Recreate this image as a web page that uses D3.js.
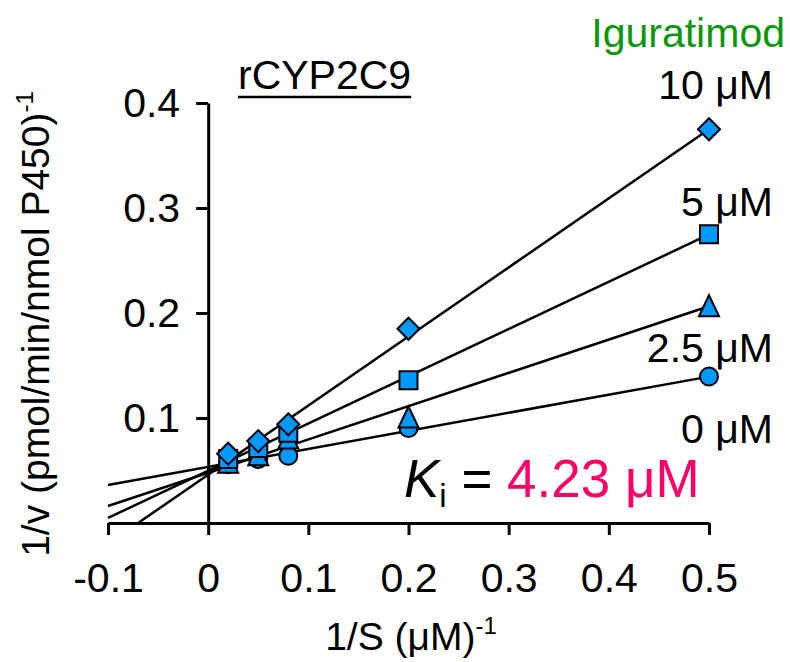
<!DOCTYPE html>
<html>
<head>
<meta charset="utf-8">
<script src="https://cdn.jsdelivr.net/npm/d3@7"></script>
<style>
  body { margin: 0; background: #fff; }
  text { font-family: "Liberation Sans", Arial, sans-serif; }
</style>
</head>
<body>
<div id="chart"></div>
<script>
// substrate reciprocal (1/S) and measured 1/v for each inhibitor level
const invS = [0.02, 0.05, 0.08, 0.2, 0.5]
const concLabels = ['0 μM', '2.5 μM', '5 μM', '10 μM']
const shapes = ['circle', 'triangle', 'square', 'diamond']
const v0 = [0.056, 0.061, 0.064, 0.0905, 0.1395]
const v25 = [0.057, 0.064, 0.080, 0.100, 0.206]
const v5 = [0.061, 0.0715, 0.086, 0.136, 0.275]
const v10 = [0.066, 0.078, 0.094, 0.185, 0.375]
// fitted lines
const fitSlope = [0.172, 0.317, 0.450, 0.658]
const fitIntercept = [0.0534, 0.0479, 0.0498, 0.046]
const xTicks = [-0.1, 0, 0.1, 0.2, 0.3, 0.4, 0.5]
const yTicks = [0.1, 0.2, 0.3, 0.4]

const series = [v0, v25, v5, v10]
const W = 790, H = 662

let svg = d3.select('#chart').append('svg')
  .attr('width', W)
  .attr('height', H)

let x = d3.scaleLinear().domain([-0.1, 0.5]).range([108, 709])
let y = d3.scaleLinear().domain([0, 0.4]).range([523, 103])

const fmt = d => (d === 0 ? '0' : String(d))

// axes
let gx = svg.append('g')
  .attr('transform', 'translate(0,' + y(0) + ')')
  .call(d3.axisBottom(x).tickValues(xTicks).tickFormat(fmt).tickSize(12).tickSizeOuter(0).tickPadding(28))
let gy = svg.append('g')
  .attr('transform', 'translate(' + x(0) + ',0)')
  .call(d3.axisLeft(y).tickValues(yTicks).tickFormat(fmt).tickSize(12).tickSizeOuter(0).tickPadding(16))

svg.selectAll('.domain, .tick line')
  .attr('stroke', '#000')
  .attr('stroke-width', 3)
svg.selectAll('.tick text')
  .attr('font-size', 41)
  .attr('fill', '#000')
  .attr('font-family', '"Liberation Sans", Arial, sans-serif')

// fitted lines, clipped at y = 0
fitSlope.forEach(function(m, i) {
  let b = fitIntercept[i]
  let x0 = Math.max(-0.1, -b / m)
  svg.append('line')
    .attr('x1', x(x0)).attr('y1', y(m * x0 + b))
    .attr('x2', x(0.5)).attr('y2', y(m * 0.5 + b))
    .attr('stroke', '#000')
    .attr('stroke-width', 2.5)
})

// marker shapes
function shapePath(s) {
  if (s === 'circle') return d3.symbol(d3.symbolCircle, Math.PI * 9 * 9)()
  if (s === 'square') return 'M-9,-9H9V9H-9Z'
  if (s === 'triangle') return 'M0,-11.5L10,9.5H-10Z'
  return 'M0,-11L11,0L0,11L-11,0Z'
}

series.forEach(function(vals, i) {
  svg.append('g')
    .selectAll('path')
    .data(vals)
    .enter()
    .append('path')
    .attr('transform', (d, j) => 'translate(' + x(invS[j]) + ',' + y(d) + ')')
    .attr('d', shapePath(shapes[i]))
    .attr('fill', '#0099ff')
    .attr('stroke', '#000')
    .attr('stroke-width', 2)
})

// axis titles
let xt = svg.append('text')
  .attr('x', 411).attr('y', 650)
  .attr('text-anchor', 'middle')
  .attr('font-size', 39)
xt.append('tspan').text('1/S (μM)')
xt.append('tspan').text('-1').attr('font-size', 24).attr('dy', -16)

let yt = svg.append('text')
  .attr('transform', 'translate(49,' + 324 + ') rotate(-90)')
  .attr('text-anchor', 'middle')
  .attr('font-size', 39)
yt.append('tspan').text('1/v (pmol/min/nmol P450)')
yt.append('tspan').text('-1').attr('font-size', 24).attr('dy', -16)

// title with underline
let title = svg.append('text')
  .attr('x', 238).attr('y', 89)
  .attr('font-size', 41)
  .text('rCYP2C9')
let tw = title.node().getComputedTextLength()
svg.append('line')
  .attr('x1', 238).attr('x2', 238 + tw)
  .attr('y1', 97).attr('y2', 97)
  .attr('stroke', '#000').attr('stroke-width', 2.5)

// legend-like labels
svg.append('text')
  .attr('x', 785).attr('y', 47)
  .attr('text-anchor', 'end')
  .attr('font-size', 41)
  .attr('fill', '#0a990a')
  .text('Iguratimod')

const labelY = [443, 362, 216, 99]
concLabels.forEach(function(t, i) {
  svg.append('text')
    .attr('x', 773).attr('y', labelY[i])
    .attr('text-anchor', 'end')
    .attr('font-size', 41)
    .text(t)
})

// Ki annotation
let ki = svg.append('text')
  .attr('x', 404).attr('y', 497)
  .attr('font-size', 53)
ki.append('tspan').text('K').attr('font-style', 'italic')
ki.append('tspan').text('i').attr('font-size', 33).attr('dy', 10)
ki.append('tspan').text(' = ').attr('dy', -10)
ki.append('tspan').text('4.23 μM').attr('fill', '#ff0066')
</script>
</body>
</html>
